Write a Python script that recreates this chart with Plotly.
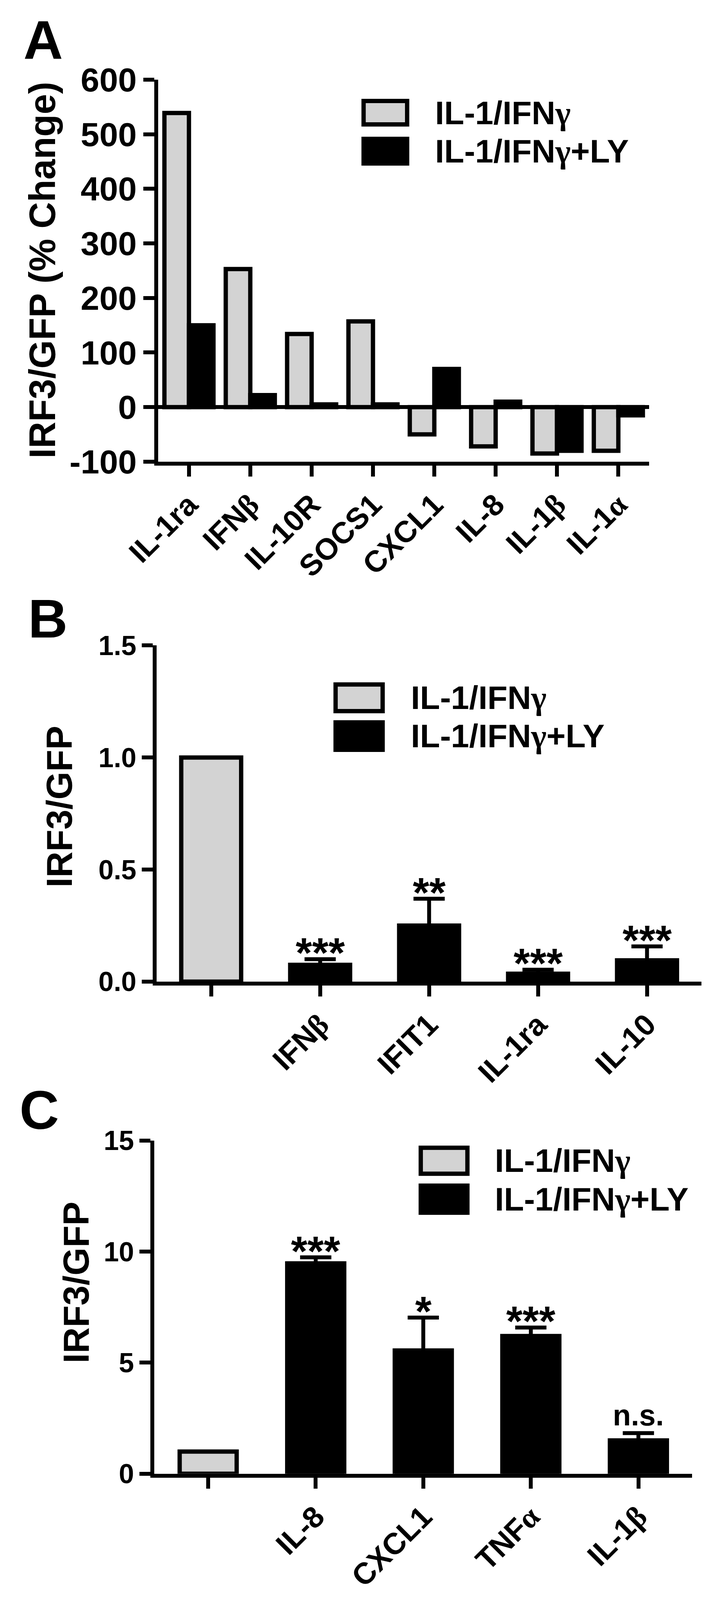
import plotly.graph_objects as go

# positions below are measured on the 1841 x 4414 reference picture and
# converted to paper fractions; the page only shows about 1841 x 4096,
# so the figure itself is drawn a little smaller and everything scales with it
W_REF, H_REF = 1841, 4414
W, H = 1833, 4080

# ---- data ----
series = ["IL-1/IFNγ", "IL-1/IFNγ+LY"]

# panel A: % change
a_genes = ["IL-1ra", "IFNβ", "IL-10R", "SOCS1", "CXCL1", "IL-8", "IL-1β", "IL-1α"]
a_ifn = [539, 253, 134, 157, -50, -72, -85, -80]
a_ly = [150, 22, 5, 5, 70, 10, -80, -15]
a_yticks = [-100, 0, 100, 200, 300, 400, 500, 600]

# panel B
b_genes = ["", "IFNβ", "IFIT1", "IL-1ra", "IL-10"]
b_ifn = [1.0]
b_ly = [0.075, 0.25, 0.035, 0.095]
b_ly_err = [0.025, 0.12, 0.018, 0.062]
b_sig = ["***", "**", "***", "***"]
b_yticks = [0.0, 0.5, 1.0, 1.5]

# panel C
c_genes = ["", "IL-8", "CXCL1", "TNFα", "IL-1β"]
c_ifn = [1.0]
c_ly = [9.47, 5.55, 6.2, 1.5]
c_ly_err = [0.27, 1.48, 0.38, 0.33]
c_sig = ["***", "*", "***", "n.s."]
c_yticks = [0, 5, 10, 15]

GRAY = "#d3d3d3"
SANS = "Liberation Sans, Arial, sans-serif"
NARROW = "Liberation Sans Narrow, Arial Narrow, Liberation Sans, Arial, sans-serif"
K = H / H_REF


def px(x):
    return x / W_REF


def py(y):
    return 1 - y / H_REF


def greek(s):
    out = ""
    for ch in s:
        if ch in "αβγ":
            out += '<span style="font-family:Liberation Serif">' + ch + "</span>"
        else:
            out += ch
    return out


fig = go.Figure()

# -------------------------------
# PANEL A
# -------------------------------
xa = list(range(len(a_genes)))
fig.add_trace(go.Bar(x=xa, y=a_ifn, width=0.4, offset=-0.4, name=series[0],
                     marker=dict(color=GRAY, line=dict(color="black", width=11)),
                     xaxis="x", yaxis="y"))
fig.add_trace(go.Bar(x=xa, y=a_ly, width=0.4, offset=0.0, name=series[1],
                     marker=dict(color="black", line=dict(color="black", width=11)),
                     xaxis="x", yaxis="y"))

# -------------------------------
# PANEL B
# -------------------------------
fig.add_trace(go.Bar(x=[0], y=b_ifn, width=0.55, offset=-0.275, name=series[0],
                     marker=dict(color=GRAY, line=dict(color="black", width=11)),
                     xaxis="x2", yaxis="y2"))
xb = list(range(1, len(b_ly) + 1))
fig.add_trace(go.Bar(x=xb, y=b_ly, width=0.55, offset=-0.275, name=series[1],
                     marker=dict(color="black", line=dict(color="black", width=11)),
                     error_y=dict(type="data", symmetric=False, array=b_ly_err,
                                  arrayminus=[0] * len(b_ly), color="black",
                                  thickness=10, width=40),
                     xaxis="x2", yaxis="y2"))

# -------------------------------
# PANEL C
# -------------------------------
fig.add_trace(go.Bar(x=[0], y=c_ifn, width=0.53, offset=-0.265, name=series[0],
                     marker=dict(color=GRAY, line=dict(color="black", width=11)),
                     xaxis="x3", yaxis="y3"))
xc = list(range(1, len(c_ly) + 1))
fig.add_trace(go.Bar(x=xc, y=c_ly, width=0.53, offset=-0.265, name=series[1],
                     marker=dict(color="black", line=dict(color="black", width=11)),
                     error_y=dict(type="data", symmetric=False, array=c_ly_err,
                                  arrayminus=[0] * len(c_ly), color="black",
                                  thickness=10, width=40),
                     xaxis="x3", yaxis="y3"))

axis_style = dict(showline=True, linewidth=10, linecolor="black", ticks="outside",
                  tickwidth=10, tickcolor="black", showgrid=False, zeroline=False,
                  automargin=False)


def xaxis(labels, dom, anchor):
    return dict(axis_style, domain=dom, anchor=anchor, range=[-0.5, len(labels) - 0.5],
                tickmode="array", tickvals=list(range(len(labels))),
                ticktext=[greek(s) for s in labels], tickangle=-45, ticklen=28,
                ticklabelstandoff=-4,
                tickfont=dict(family=SANS, size=77, color="black", weight="bold"))


def yaxis(ticks, rng, dom, anchor, size, fmt):
    return dict(axis_style, domain=dom, anchor=anchor, range=rng, ticklen=28,
                tickmode="array", tickvals=ticks, ticktext=[fmt.format(t) for t in ticks],
                tickfont=dict(family=NARROW, size=size, color="black", weight="bold"))


layout = dict(
    width=W, height=H, margin=dict(l=0, r=0, t=0, b=0, pad=0),
    plot_bgcolor="white", paper_bgcolor="white", showlegend=False,
    xaxis=xaxis(a_genes, [px(399), px(1661)], "y"),
    yaxis=yaxis(a_yticks, [-100, 600], [py(1270), py(212)], "x", 86, "{:d}"),
    xaxis2=xaxis(b_genes, [px(395), px(1796)], "y2"),
    yaxis2=yaxis(b_yticks, [0, 1.5], [py(2710), py(1779)], "x2", 70, "{:.1f}"),
    xaxis3=xaxis(c_genes, [px(389), px(1772)], "y3"),
    yaxis3=yaxis(c_yticks, [0, 15], [py(4073), py(3150)], "x3", 70, "{:d}"),
)
layout["yaxis"]["zeroline"] = True
layout["yaxis"]["zerolinewidth"] = 10
layout["yaxis"]["zerolinecolor"] = "black"
fig.update_layout(**layout)

ann = []
shapes = []

# panel letters
for letter, yc, xl in [("A", 102, 50), ("B", 1705, 62), ("C", 3065, 40)]:
    ann.append(dict(text=letter, x=px(xl), y=py(yc), xref="paper", yref="paper",
                    xanchor="left", yanchor="middle", showarrow=False,
                    font=dict(family=SANS, size=140, color="black", weight="bold")))

# y titles
for title, tx, ty, size in [("IRF3/GFP (% Change)", 100, 740, 94),
                            ("IRF3/GFP", 144, 2225, 92),
                            ("IRF3/GFP", 188, 3543, 92)]:
    ann.append(dict(text=title, x=px(tx), y=py(ty), xref="paper", yref="paper",
                    textangle=-90, xanchor="center", yanchor="middle", showarrow=False,
                    font=dict(family=SANS, size=size, color="black", weight="bold")))

# legends: boxes drawn as shapes, names as text
for bx0, bx1, rows, tx in [(927, 1039, [(271, 336), (376, 444)], 1109),
                           (855, 976, [(1887, 1961), (1992, 2068)], 1047),
                           (1074, 1194, [(3170, 3242), (3275, 3350)], 1262)]:
    for k, (y0, y1) in enumerate(rows):
        shapes.append(dict(type="rect", xref="paper", yref="paper",
                           x0=px(bx0), x1=px(bx1), y0=py(y1), y1=py(y0),
                           fillcolor=GRAY if k == 0 else "black",
                           line=dict(color="black", width=11)))
        ann.append(dict(text=greek(series[k]), x=px(tx), y=py((y0 + y1) / 2),
                        xref="paper", yref="paper", xanchor="left", yanchor="middle",
                        showarrow=False,
                        font=dict(family=SANS, size=84, color="black", weight="bold")))

# significance marks
for xs, vals, errs, sigs, xr, yr in [(xb, b_ly, b_ly_err, b_sig, "x2", "y2"),
                                     (xc, c_ly, c_ly_err, c_sig, "x3", "y3")]:
    for x, v, e, s in zip(xs, vals, errs, sigs):
        if s == "n.s.":
            f, sh = 76, 50 * K
        else:
            f, sh = 108, 18 * K
        ann.append(dict(text=s, x=x, y=v + e, xref=xr, yref=yr, xanchor="center",
                        yanchor="middle", yshift=sh, showarrow=False,
                        font=dict(family=SANS, size=f, color="black", weight="bold")))

fig.update_layout(annotations=ann, shapes=shapes)

fig.write_html("out.html")
